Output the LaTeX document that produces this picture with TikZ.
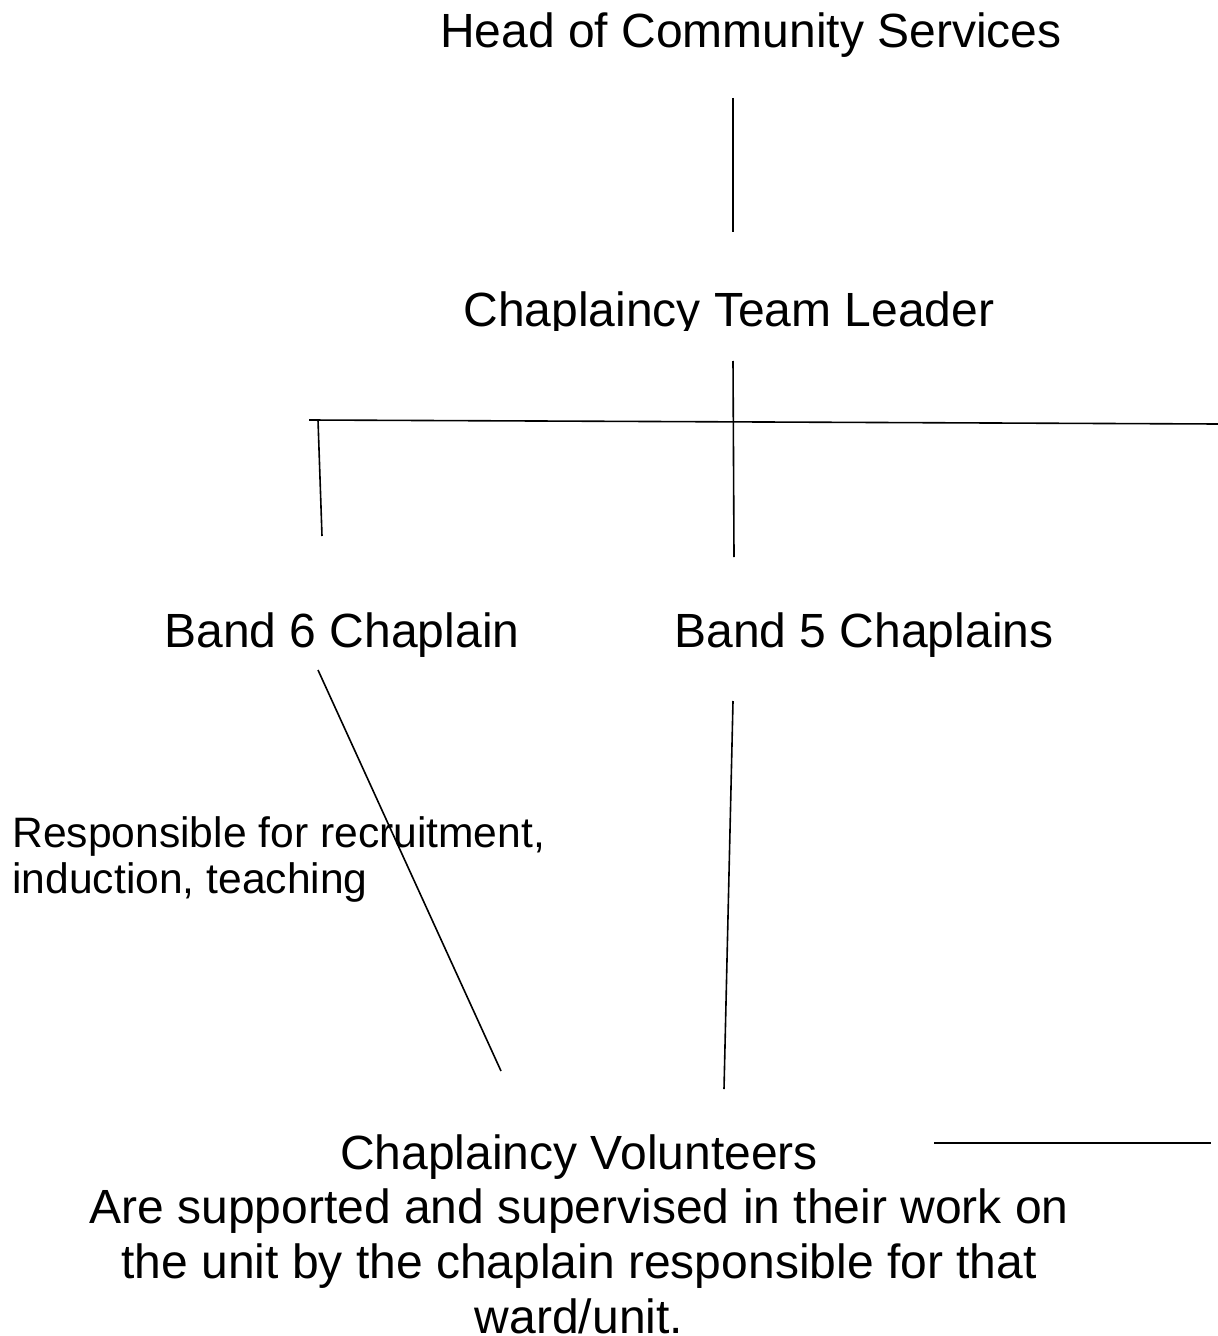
\documentclass[tikz,border=0pt]{standalone}
\usepackage{fontspec}
\setmainfont{Liberation Sans}
\usetikzlibrary{positioning}
\tikzset{
  post/.style={font=\fontsize{24}{27.3}\selectfont, anchor=base, inner sep=0pt, align=center},
  note/.style={font=\fontsize{21.3}{23}\selectfont, anchor=base west, inner sep=0pt, align=left},
  link/.style={line width=0.8pt, black}
}
\begin{document}
\begin{tikzpicture}[x=0.5pt, y=-0.5pt, line cap=butt]
  \useasboundingbox (0,0) rectangle (1218,1336);

  % Posts (multi-line nodes sit on their last line)
  \node[post] (head) at (751,48) {Head of Community Services};
  \begin{scope}
    \clip (0,200) rectangle (1218,331);
    \node[post] (leader) at (729,327) {Chaplaincy Team Leader};
  \end{scope}
  \node[post] (bandsix) at (342,647) {Band 6 Chaplain};
  \node[post] (bandfive) at (864,647) {Band 5 Chaplains};
  \node[note] (duties) at (12,893) {Responsible for recruitment,\\induction, teaching};
  \node[post] (volunteers) at (579,1333) {Chaplaincy Volunteers\\Are supported and supervised in their work on\\the unit by the chaplain responsible for that\\ward/unit.};

  % Line ends
  \coordinate (headdown) at (733,98);
  \coordinate (leaderup) at (733,232);
  \coordinate (leaderdown) at (733,361);
  \coordinate (midstem) at (734,557);
  \coordinate (barwest) at (309,420);
  \coordinate (bareast) at (1218,424);
  \coordinate (sixtop) at (318,420);
  \coordinate (sixstem) at (322,536);
  \coordinate (sixdown) at (318,670);
  \coordinate (voladiag) at (501,1071);
  \coordinate (fivedown) at (733,701);
  \coordinate (volbstem) at (724,1089);
  \coordinate (sidewest) at (934,1143);
  \coordinate (sideeast) at (1211,1143);

  % Connectors
  \draw[link] (headdown) -- (leaderup);
  \draw[link] (leaderdown) -- (midstem);
  \draw[link] (barwest) -- (bareast);
  \draw[link] (sixtop) -- (sixstem);
  \draw[link] (sixdown) -- (voladiag);
  \draw[link] (fivedown) -- (volbstem);
  \draw[link] (sidewest) -- (sideeast);
\end{tikzpicture}
\end{document}
